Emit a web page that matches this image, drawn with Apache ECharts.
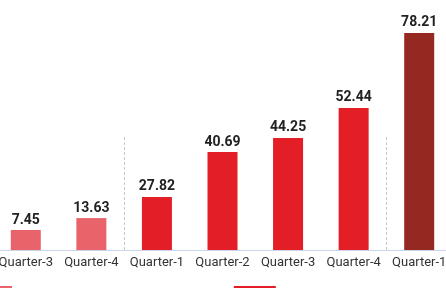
<!DOCTYPE html>
<html>
<head>
<meta charset="utf-8">
<script src="https://cdn.jsdelivr.net/npm/echarts@6/dist/echarts.min.js"></script>
<style>
  html, body { margin: 0; padding: 0; background: #fff; }
  #chart-container { width: 446px; height: 288px; }
</style>
</head>
<body>
<div id="chart-container"></div>
<script>
var categories = ["Quarter-3", "Quarter-4", "Quarter-1", "Quarter-2", "Quarter-3", "Quarter-4", "Quarter-1"];
// printed value on each bar
var labelValues = [7.45, 13.63, 27.82, 40.69, 44.25, 52.44, 78.21];
// bar heights
var barValues = [7.2, 11.5, 19.1, 35.3, 40.4, 51.2, 78.21];
var yearOf = [0, 0, 1, 1, 1, 1, 2];
var yearNames = ["FY2022", "FY2023", "FY2024"];
var yearColors = ["#E8636A", "#E31E26", "#962822"];
// year boundaries (category index) for the dashed dividers
var dividers = [2, 6];
var dividerTop = 41.4;

var dom = document.getElementById("chart-container");
var myChart = echarts.init(dom, null, { renderer: "canvas" });

var series = yearNames.map(function (name, y) {
  return {
    name: name,
    type: "bar",
    stack: "all",
    barWidth: 30,
    itemStyle: { color: yearColors[y] },
    label: {
      show: true,
      position: "top",
      distance: 3,
      fontFamily: "Roboto",
      fontSize: 14,
      fontWeight: "bold",
      color: "#222",
      formatter: function (p) { return labelValues[p.dataIndex].toFixed(2); }
    },
    data: barValues.map(function (v, i) { return yearOf[i] === y ? v : "-"; })
  };
});

series.push({
  type: "line",
  xAxisIndex: 1,
  data: [],
  silent: true,
  markLine: {
    symbol: "none",
    silent: true,
    label: { show: false },
    lineStyle: { color: "#c8c8c8", type: [3, 2], width: 1 },
    data: dividers.map(function (d) {
      return [{ coord: [d, 0] }, { coord: [d, dividerTop] }];
    })
  }
});

var option = {
  animation: false,
  textStyle: { fontFamily: "Roboto" },
  grid: { left: -7, right: -6, top: 28, bottom: 38, outerBoundsMode: "none" },
  legend: {
    left: -30,
    top: 286,
    padding: 0,
    icon: "rect",
    itemWidth: 42,
    itemHeight: 22,
    itemGap: 176,
    data: yearNames,
    textStyle: { fontSize: 12, color: "#333" }
  },
  xAxis: [
    {
      type: "category",
      data: categories,
      axisLine: { lineStyle: { color: "#ccd6eb" } },
      axisTick: { length: 6, lineStyle: { color: "#ccd6eb" } },
      axisLabel: { interval: 0, margin: 6, fontSize: 13, color: "#333", fontFamily: "Roboto" }
    },
    { type: "value", show: false, min: 0, max: 7 }
  ],
  yAxis: {
    type: "value",
    min: 0,
    max: 80,
    show: false,
    splitLine: { show: false }
  },
  series: series
};

myChart.setOption(option);
window.addEventListener("resize", myChart.resize);
</script>
</body>
</html>
